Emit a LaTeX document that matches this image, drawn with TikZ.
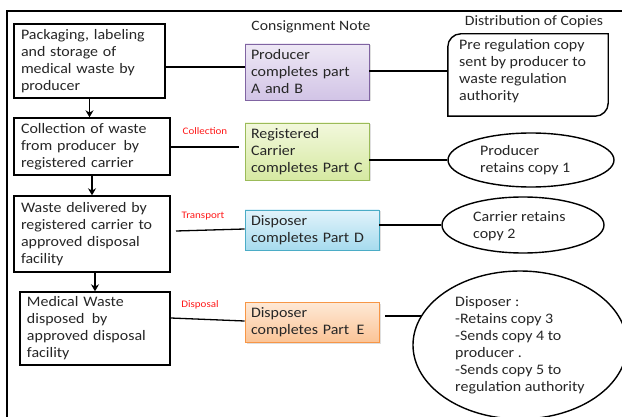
\documentclass[tikz,border=0pt]{standalone}
\usepackage{fontspec}
\setmainfont{Carlito}[FakeStretch=1.1]
\usetikzlibrary{shapes.geometric,shadows,arrows.meta}
\definecolor{purpleB}{HTML}{8064A2}
\definecolor{purpleT}{HTML}{EEE8F5}
\definecolor{purpleD}{HTML}{D2C4E6}
\definecolor{greenB}{HTML}{9BBB59}
\definecolor{greenT}{HTML}{F2F8DC}
\definecolor{greenD}{HTML}{D6E9A2}
\definecolor{blueB}{HTML}{4BACC6}
\definecolor{blueT}{HTML}{E2F3FB}
\definecolor{blueD}{HTML}{A6DBEE}
\definecolor{orangeB}{HTML}{F79646}
\definecolor{orangeT}{HTML}{FEE9D6}
\definecolor{orangeD}{HTML}{FBC497}
\definecolor{tagred}{HTML}{FF1A1A}
% a slightly wider word gap
\newcommand{\wsp}{\hspace{2.5pt}}
\tikzset{
  txt/.style={font=\fontsize{14.5}{17}\selectfont, text=black!85},
  stepbox/.style={txt, draw, line width=1.4pt, rectangle, align=left,
    inner xsep=7pt, inner ysep=0pt},
  notebox/.style={txt, draw=#1B, line width=0.8pt, top color=#1T, bottom color=#1D,
    rectangle, align=left, inner xsep=6pt, inner ysep=0pt,
    drop shadow={opacity=0.25, shadow xshift=1.5pt, shadow yshift=-1.5pt}},
  oval/.style={ellipse, draw, line width=1.4pt, inner sep=0pt},
  tag/.style={font=\fontsize{10}{11}\selectfont, text=tagred},
  link/.style={line width=1.3pt},
  flow/.style={line width=1.4pt, -{Stealth[length=7pt,width=8pt]}},
  heading/.style={font=\fontsize{14.3}{16}\selectfont, text=black!85},
}
\begin{document}
\begin{tikzpicture}[x=1pt,y=-1pt]
\useasboundingbox (0,0) rectangle (622,417);
\fill[white] (0,0) rectangle (622,417);

% outer frame (only top and left edges fall inside the page)
\draw[line width=2.6pt] (7,425) -- (7,11) -- (630,11);

% headings
\node[heading] (hnote) at (311,27) {Consignment Note};
\node[heading] (hcopies) at (534,22) {Distribution of Copies};

% process steps
\node[stepbox, text width=137pt, minimum height=74pt] (b1) at (89.5,61)
  {Packaging, labeling\\and storage of\\medical waste by\\producer};
\node[stepbox, text width=142pt, minimum height=57pt] (b2) at (92,146.5)
  {Collection of waste\\from producer\wsp{} by\\registered carrier};
\node[stepbox, text width=142pt, minimum height=76pt] (b3) at (92,234)
  {Waste delivered by\\registered carrier to\\approved disposal\\facility};
\node[stepbox, text width=136pt, minimum height=73pt] (b4) at (95,328.5)
  {Medical Waste\\disposed\wsp{} by\\approved disposal\\facility};

% consignment note parts
\node[notebox=purple, text width=112pt, minimum height=56pt] (p) at (307,72)
  {Producer\\completes part\\A and B};
\node[notebox=green, text width=112pt, minimum height=57pt] (g) at (307,151.5)
  {Registered\\Carrier\\completes Part C};
\node[notebox=blue, text width=122pt, minimum height=40pt] (bl) at (312,230)
  {Disposer\\completes Part D};
\node[notebox=orange, text width=122pt, minimum height=40pt] (o) at (312,322)
  {Disposer\\completes Part\wsp{} E};

% distribution of copies
\node[minimum width=160pt, minimum height=82pt, inner sep=0pt] (r) at (528,75) {};
\draw[line width=1.4pt]
  ([yshift=-13pt]r.north west) arc[start angle=180, end angle=90, radius=13pt]
  -- (r.north east) -- ([yshift=13pt]r.south east)
  arc[start angle=0, end angle=-90, radius=13pt] -- (r.south west) -- cycle;
\node[txt, anchor=north west, align=left, inner sep=0pt] (rt) at (459,39)
  {Pre regulation copy\\sent by producer to\\waste regulation\\authority};

\node[oval, minimum width=166pt, minimum height=54pt] (e1) at (531,160) {};
\node[txt, anchor=west, align=left, inner sep=0pt] (e1t) at (480,160)
  {Producer\\retains copy 1};
\node[oval, minimum width=162pt, minimum height=56pt] (e2) at (523,225) {};
\node[txt, anchor=west, align=left, inner sep=0pt] (e2t) at (473,226)
  {Carrier retains\\copy 2};
\node[oval, minimum width=214pt, minimum height=148pt] (e3) at (520,345) {};
\node[txt, anchor=west, align=left, inner sep=0pt] (e3t) at (455,345)
  {Disposer :\\-Retains copy 3\\-Sends copy 4 to\\producer .\\-Sends copy 5 to\\regulation authority};

% stage tags
\node[tag] (t1) at (205,131) {Collection};
\node[tag] (t2) at (203,216) {Transport};
\node[tag] (t3) at (200,305) {Disposal};

% flow between steps
\draw[flow] (b1.south) -- (b1.south |- b2.north);
\draw[flow] (b2.south) -- (b2.south |- b3.north);
\draw[flow] (b3.south -| b4.north) -- (b4.north);

% links to consignment note parts
\draw[link] (b1.east |- 0,67) -- (p.west |- 0,67);
\coordinate (c2) at (239,147);
\draw[link] (b2.east |- c2) -- (c2);
\coordinate (c3) at (176,231);
\draw[link] (c3) -- (bl.west |- 0,229);
\draw[link] (b4.east |- 0,318) -- (o.west |- 0,321);

% links to copy distribution
\draw[link] (p.east |- 0,71) -- (r.west |- 0,71);
\draw[link] (g.east |- e1) -- (e1.west);
\draw[link] (bl.east |- e2) -- (e2.west);
\coordinate (c4) at (385,316);
\draw[link] (c4) -- (e3.163 |- c4);
\end{tikzpicture}
\end{document}
